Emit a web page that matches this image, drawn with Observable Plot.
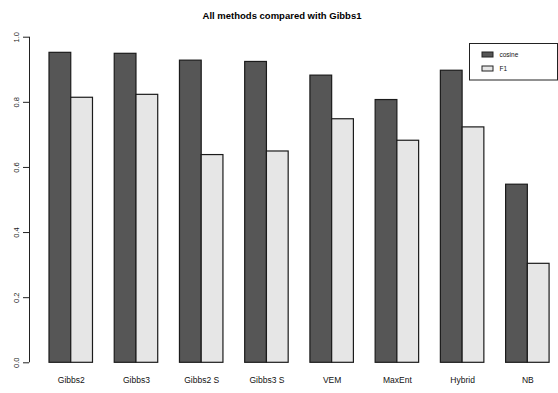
<!DOCTYPE html>
<html>
<head>
<meta charset="utf-8">
<script src="https://cdn.jsdelivr.net/npm/d3@7"></script>
<script src="https://cdn.jsdelivr.net/npm/@observablehq/plot@0.6"></script>
<style>
  html, body { margin: 0; padding: 0; background: #fff; }
  #chart svg { display: block; font-family: "Liberation Sans", Arial, Helvetica, sans-serif; }
</style>
</head>
<body>
<div id="chart"></div>
<script>
// Methods compared against Gibbs1, two scores each
const methods = ["Gibbs2", "Gibbs3", "Gibbs2 S", "Gibbs3 S", "VEM", "MaxEnt", "Hybrid", "NB"];
const cosine = [0.952, 0.949, 0.928, 0.924, 0.882, 0.807, 0.897, 0.547];
const f1 = [0.814, 0.823, 0.638, 0.649, 0.748, 0.682, 0.723, 0.304];
const series = ["cosine", "F1"];
const seriesColors = ["#565656", "#e6e6e6"];
const yTicks = [0, 0.2, 0.4, 0.6, 0.8, 1.0];
const title = "All methods compared with Gibbs1";

// Grouped layout in bar-width units: each group is a one-bar gap followed by its two bars
const values = [cosine, f1];
const rows = methods.flatMap((m, i) =>
  series.map((s, j) => ({
    method: m,
    series: s,
    value: values[j][i],
    x1: 3 * i + 1 + j,
    x2: 3 * i + 2 + j
  }))
);
const groupCenters = methods.map((m, i) => 3 * i + 2);
const nUnits = 3 * methods.length;
const xDomain = [1 - 0.92, nUnits + 0.41];

const chart = Plot.plot({
  width: 558,
  height: 393,
  marginLeft: 29,
  marginRight: 0,
  marginTop: 36.7,
  marginBottom: 30.7,
  style: { background: "#fff", fontFamily: "Liberation Sans, Arial, sans-serif", color: "#111" },
  x: { type: "linear", domain: xDomain, axis: null },
  y: { domain: [0, 1], axis: null },
  color: { domain: series, range: seriesColors },
  marks: [
    Plot.rectY(rows, {
      x1: "x1", x2: "x2", y1: () => 0, y2: "value",
      fill: "series", stroke: "#1b1b1b", strokeWidth: 1.2
    }),
    Plot.ruleX([xDomain[0]], { y1: () => 0, y2: () => 1, stroke: "#222", strokeWidth: 1 }),
    Plot.axisY(yTicks, {
      anchor: "left",
      tickSize: 6,
      tickPadding: 5,
      tickRotate: -90,
      tickFormat: d3.format(".1f"),
      fontSize: 7.5,
      stroke: "#222",
      fill: "#222",
      label: null
    }),
    Plot.axisX(groupCenters, {
      anchor: "bottom",
      tickSize: 0,
      tickPadding: 14,
      tickFormat: (d) => methods[(d - 2) / 3],
      fontSize: 8.5,
      fill: "#111",
      label: null
    }),
    Plot.text([title], {
      frameAnchor: "top",
      dy: -25,
      dx: -12,
      fontWeight: "bold",
      fontSize: 9.5,
      fill: "#000"
    })
  ]
});

document.getElementById("chart").appendChild(chart);

// Boxed legend in the top-right corner
const svg = d3.select(chart);
const lg = svg.append("g")
  .attr("font-family", "Liberation Sans, Arial, sans-serif")
  .attr("font-size", 6.5)
  .attr("text-anchor", "start");
lg.append("rect")
  .attr("x", 469.5).attr("y", 43.5).attr("width", 88).attr("height", 36.5)
  .attr("fill", "#fff").attr("stroke", "#222").attr("stroke-width", 1);
series.forEach((s, j) => {
  const cy = 54.5 + j * 14;
  lg.append("rect")
    .attr("x", 482).attr("y", cy - 2.5).attr("width", 11).attr("height", 5)
    .attr("fill", seriesColors[j]).attr("stroke", "#222").attr("stroke-width", 1);
  lg.append("text")
    .attr("x", 499.5).attr("y", cy).attr("dy", "0.35em")
    .attr("text-anchor", "start")
    .attr("fill", "#111").text(s);
});
</script>
</body>
</html>
